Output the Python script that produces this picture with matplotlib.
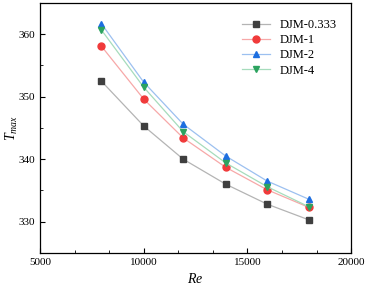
import numpy as np
import matplotlib.pyplot as plt
from matplotlib.ticker import AutoMinorLocator

plt.rcParams['font.family'] = ['Liberation Serif', 'DejaVu Serif']
plt.rcParams['mathtext.fontset'] = 'custom'
plt.rcParams['mathtext.it'] = 'Liberation Serif:italic'
plt.rcParams['mathtext.rm'] = 'Liberation Serif'

# datos
re = [7950, 10000, 11900, 13950, 15950, 17950]
djm_0333 = [352.5, 345.3, 340.0, 336.0, 332.8, 330.3]
djm_1 = [358.1, 349.6, 343.4, 338.7, 335.1, 332.3]
djm_2 = [361.7, 352.3, 345.6, 340.5, 336.5, 333.6]
djm_4 = [360.7, 351.5, 344.4, 339.4, 335.6, 332.4]

series = [
    ("DJM-0.333", djm_0333, "s", "#3f3f3f", "#b4b4b4"),
    ("DJM-1", djm_1, "o", "#f03a3a", "#f7a8a8"),
    ("DJM-2", djm_2, "^", "#1c6ee0", "#9cc0f0"),
    ("DJM-4", djm_4, "v", "#2ca35f", "#a6dcbc"),
]

fig = plt.figure(figsize=(3.68, 2.9), dpi=100)
ax = fig.add_axes([0.109, 0.128, 0.845, 0.862])

for nombre, y, mk, c_mk, c_ln in series:
    ax.plot(re, y, color=c_ln, linewidth=0.9, marker=mk, markersize=5,
            markerfacecolor=c_mk, markeredgecolor=c_mk, label=nombre)

ax.set_xlim(5000, 20000)
ax.set_ylim(325, 365)
ax.set_xticks([5000, 10000, 15000, 20000])
ax.set_yticks([330, 340, 350, 360])
ax.xaxis.set_minor_locator(AutoMinorLocator(3))
ax.yaxis.set_minor_locator(AutoMinorLocator(2))
ax.tick_params(which="both", direction="in", labelsize=8, top=False, right=False)
ax.tick_params(which="major", length=3.5)
ax.tick_params(which="minor", length=2)
for s in ax.spines.values():
    s.set_linewidth(0.9)

ax.set_xlabel("$Re$", fontsize=10, labelpad=4)
ax.set_ylabel("$T_{max}$", fontsize=10)
ax.yaxis.set_label_coords(-0.065, 0.5)

ax.legend(loc="upper right", frameon=False, fontsize=9, handlelength=2.2,
          labelspacing=0.25, bbox_to_anchor=(0.99, 0.98))

fig.savefig("out.png", dpi=100)
